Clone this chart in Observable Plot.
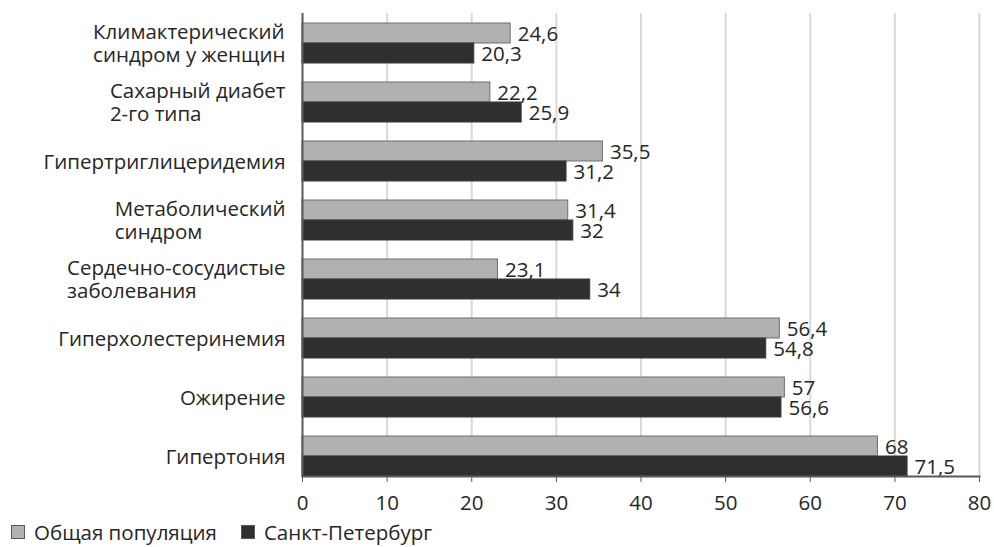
<!DOCTYPE html>
<html>
<head>
<meta charset="utf-8">
<script src="https://cdn.jsdelivr.net/npm/d3@7"></script>
<script src="https://cdn.jsdelivr.net/npm/@observablehq/plot@0.6"></script>
<style>
  html, body { margin: 0; padding: 0; background: #fff; }
  body { width: 994px; height: 547px; overflow: hidden; font-family: "Open Sans", sans-serif; color: #262626; }
  #chart svg { display: block; }
  .legend { display: flex; align-items: center; height: 34px; padding-left: 11px; font-size: 20.5px; color: #262626; }
  .legend .item { display: flex; align-items: center; margin-right: 24px; }
  .legend .sw { width: 12px; height: 12px; border: 1px solid #595959; margin-right: 9px; }
</style>
</head>
<body>
<div id="chart"></div>
<div class="legend" id="legend"></div>
<script>
// Доля пациентов с заболеванием, %
const categories = [
  "Климактерический\nсиндром у женщин",
  "Сахарный диабет\n2-го типа",
  "Гипертриглицеридемия",
  "Метаболический\nсиндром",
  "Сердечно-сосудистые\nзаболевания",
  "Гиперхолестеринемия",
  "Ожирение",
  "Гипертония"
];
const seriesNames = ["Общая популяция", "Санкт-Петербург"];
const generalPopulation = [24.6, 22.2, 35.5, 31.4, 23.1, 56.4, 57, 68];
const saintPetersburg = [20.3, 25.9, 31.2, 32, 34, 54.8, 56.6, 71.5];
const xTicks = [0, 10, 20, 30, 40, 50, 60, 70, 80];

const colors = ["#b1b1b1", "#2f2f2f"];
const fontSize = 20.5;

const rows = [];
categories.forEach((c, i) => {
  rows.push({category: c, series: seriesNames[0], value: generalPopulation[i]});
  rows.push({category: c, series: seriesNames[1], value: saintPetersburg[i]});
});
const fmt = v => String(v).replace(".", ",");
const halfBar = 20;

const plot = Plot.plot({
  width: 994,
  height: 515,
  marginLeft: 302,
  marginRight: 15,
  marginTop: 13,
  marginBottom: 39,
  style: {fontFamily: "'Open Sans', sans-serif", fontSize: fontSize + "px", color: "#262626", background: "#fff"},
  x: {domain: [0, 80]},
  y: {domain: categories, paddingInner: 0.327, paddingOuter: 0.0589, align: 1},
  marks: [
    Plot.gridX(xTicks.filter(d => d > 0), {stroke: "#d9d9d9", strokeWidth: 2, strokeOpacity: 1}),
    Plot.barX(rows.filter(d => d.series === seriesNames[0]), {
      x: "value", y: "category", fill: colors[0], stroke: "#6e6e6e", strokeWidth: 1, insetBottom: halfBar
    }),
    Plot.barX(rows.filter(d => d.series === seriesNames[1]), {
      x: "value", y: "category", fill: colors[1], stroke: "#3a3a3a", strokeWidth: 1, insetTop: halfBar
    }),
    Plot.text(rows.filter(d => d.series === seriesNames[0]), {
      x: "value", y: "category", text: d => fmt(d.value), textAnchor: "start", dx: 7, dy: -halfBar / 2 + 1, fill: "#262626"
    }),
    Plot.text(rows.filter(d => d.series === seriesNames[1]), {
      x: "value", y: "category", text: d => fmt(d.value), textAnchor: "start", dx: 7, dy: halfBar / 2 + 1, fill: "#262626"
    }),
    Plot.ruleX([0], {stroke: "#595959", strokeWidth: 2}),
    Plot.frame({anchor: "bottom", stroke: "#595959", strokeWidth: 2}),
    Plot.axisX({ticks: xTicks, tickSize: 6, tickPadding: 13, label: null, stroke: "#595959", tickFormat: d => String(d)}),
    Plot.axisY({tickSize: 0, tickPadding: 17, label: null, lineHeight: 1.12})
  ]
});

document.getElementById("chart").appendChild(plot);

// Многострочные подписи категорий: строки выровнены по левому краю блока
d3.select(plot).selectAll("[aria-label='y-axis tick label'] text").each(function() {
  const tspans = d3.select(this).selectAll("tspan");
  if (tspans.size() < 2) return;
  let w = 0;
  tspans.each(function() { w = Math.max(w, this.getComputedTextLength()); });
  d3.select(this).attr("text-anchor", "start");
  tspans.attr("x", -w);
});

const legend = d3.select("#legend");
seriesNames.forEach((name, i) => {
  const item = legend.append("div").attr("class", "item");
  item.append("div").attr("class", "sw").style("background", colors[i]);
  item.append("span").text(name);
});
</script>
</body>
</html>
